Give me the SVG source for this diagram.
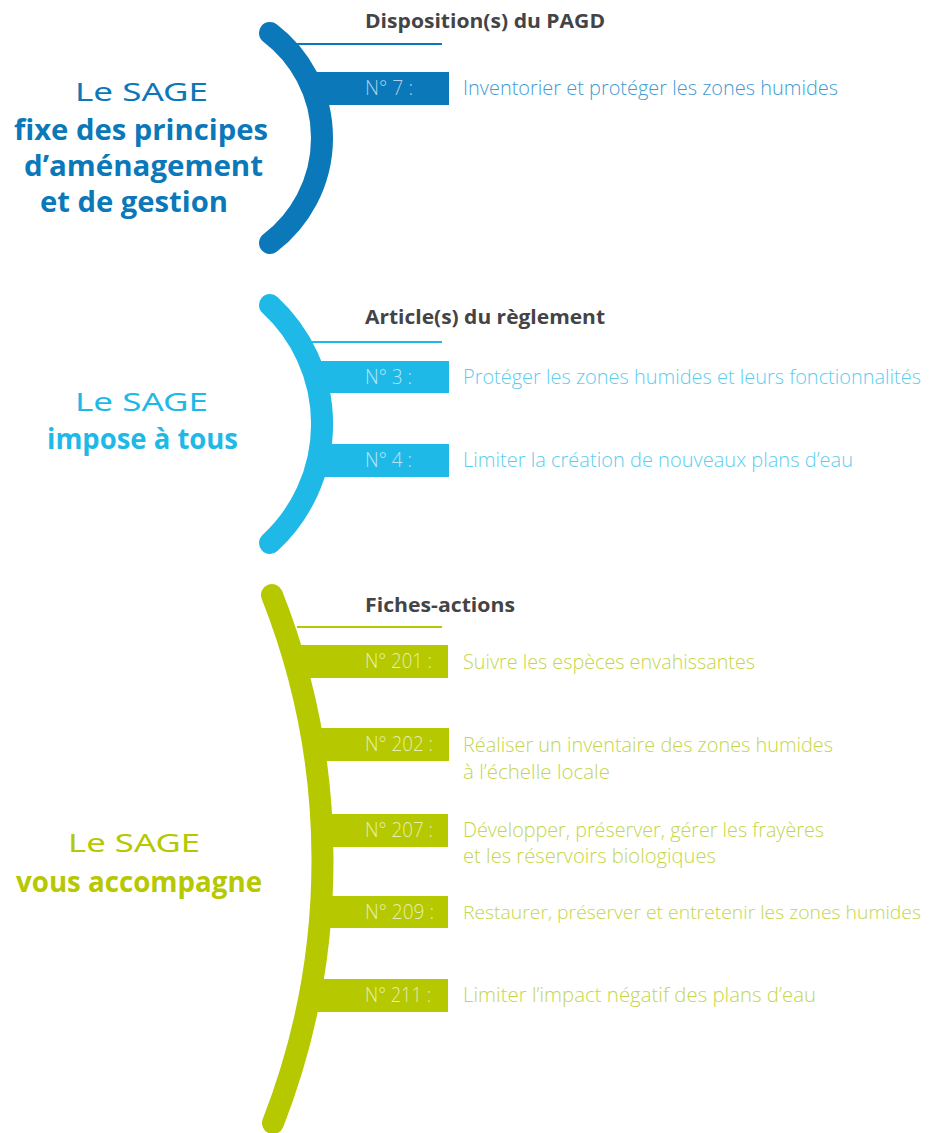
<svg xmlns="http://www.w3.org/2000/svg" width="929" height="1133" viewBox="0 0 929 1133">
<style>
.arc{fill:none;stroke-width:22;stroke-linecap:round}
.thin{stroke-width:2}
.hdr{font-family:"Open Sans","Liberation Sans",sans-serif;font-weight:700;font-size:19px;fill:#444446}
.num{font-family:"Open Sans","Liberation Sans",sans-serif;font-weight:300;font-size:20px}
.desc{font-family:"Open Sans","Liberation Sans",sans-serif;font-weight:300;font-size:20px}
.sage{font-family:"Noto Sans","DejaVu Sans",sans-serif;font-size:26px;font-weight:400}
.big{font-family:"Open Sans","Liberation Sans",sans-serif;font-weight:700;font-size:28px}
.blue{fill:#0a78b9}.cyan{fill:#1fb9e8}.green{fill:#b5c800}
</style>
<rect width="929" height="1133" fill="#ffffff"/>

<g id="section-pagd">
  <text class="sage blue" x="75" y="101" textLength="133" lengthAdjust="spacingAndGlyphs">Le SAGE</text>
  <text class="big blue" x="14" y="140" textLength="254" lengthAdjust="spacingAndGlyphs">fixe des principes</text>
  <text class="big blue" x="24" y="176" textLength="239" lengthAdjust="spacingAndGlyphs">d’aménagement</text>
  <text class="big blue" x="40" y="212" textLength="188" lengthAdjust="spacingAndGlyphs">et de gestion</text>
  <text class="hdr" x="365" y="28" textLength="240" lengthAdjust="spacingAndGlyphs">Disposition(s) du PAGD</text>
  <line class="thin" x1="293" y1="44" x2="442" y2="44" stroke="#0a78b9"/>
  <rect x="312" y="72" width="137" height="33" fill="#0a78b9"/>
  <path class="arc" d="M270 33 A132 132 0 0 1 270 243" stroke="#0a78b9"/>
  <text class="num" x="365" y="95" fill="#a9d0ec" textLength="48" lengthAdjust="spacingAndGlyphs">N° 7 :</text>
  <text class="desc" x="463" y="95" fill="#3f9bd3" textLength="375" lengthAdjust="spacingAndGlyphs">Inventorier et protéger les zones humides</text>
</g>

<g id="section-reglement">
  <text class="sage cyan" x="75" y="411" textLength="133" lengthAdjust="spacingAndGlyphs">Le SAGE</text>
  <text class="big cyan" x="47" y="449" textLength="191" lengthAdjust="spacingAndGlyphs">impose à tous</text>
  <text class="hdr" x="365" y="324" textLength="240" lengthAdjust="spacingAndGlyphs">Article(s) du règlement</text>
  <line class="thin" x1="308" y1="342" x2="442" y2="342" stroke="#1fb9e8"/>
  <rect x="314" y="361" width="135" height="32" fill="#1fb9e8"/>
  <rect x="317" y="444" width="132" height="33" fill="#1fb9e8"/>
  <path class="arc" d="M270 305 A162 162 0 0 1 270 543" stroke="#1fb9e8"/>
  <text class="num" x="365" y="384" fill="#b5e6f8" textLength="47" lengthAdjust="spacingAndGlyphs">N° 3 :</text>
  <text class="desc" x="463" y="384" fill="#5ccdf0" textLength="458" lengthAdjust="spacingAndGlyphs">Protéger les zones humides et leurs fonctionnalités</text>
  <text class="num" x="365" y="467" fill="#b5e6f8" textLength="47" lengthAdjust="spacingAndGlyphs">N° 4 :</text>
  <text class="desc" x="463" y="467" fill="#5ccdf0" textLength="390" lengthAdjust="spacingAndGlyphs">Limiter la création de nouveaux plans d’eau</text>
</g>

<g id="section-fiches">
  <text class="sage green" x="68" y="852" textLength="132" lengthAdjust="spacingAndGlyphs">Le SAGE</text>
  <text class="big green" x="16" y="892" textLength="246" lengthAdjust="spacingAndGlyphs">vous accompagne</text>
  <text class="hdr" x="365" y="612" textLength="150" lengthAdjust="spacingAndGlyphs">Fiches-actions</text>
  <line class="thin" x1="297" y1="627" x2="442" y2="627" stroke="#b5c800"/>
  <rect x="295" y="645" width="153" height="33" fill="#b5c800"/>
  <rect x="312" y="728" width="137" height="33" fill="#b5c800"/>
  <rect x="320" y="814" width="128" height="33" fill="#b5c800"/>
  <rect x="319" y="896" width="129" height="32" fill="#b5c800"/>
  <rect x="308" y="979" width="140" height="33" fill="#b5c800"/>
  <path class="arc" d="M272 595 A722 722 0 0 1 273 1123" stroke="#b5c800"/>
  <text class="num" x="365" y="668" fill="#e6efb0" textLength="67" lengthAdjust="spacingAndGlyphs">N° 201 :</text>
  <text class="desc" x="463" y="669" fill="#c4d64a" textLength="292" lengthAdjust="spacingAndGlyphs">Suivre les espèces envahissantes</text>
  <text class="num" x="365" y="751" fill="#e6efb0" textLength="68" lengthAdjust="spacingAndGlyphs">N° 202 :</text>
  <text class="desc" x="463" y="752" fill="#c4d64a" textLength="370" lengthAdjust="spacingAndGlyphs">Réaliser un inventaire des zones humides</text>
  <text class="desc" x="463" y="779" fill="#c4d64a" textLength="147" lengthAdjust="spacingAndGlyphs">à l’échelle locale</text>
  <text class="num" x="365" y="837" fill="#e6efb0" textLength="68" lengthAdjust="spacingAndGlyphs">N° 207 :</text>
  <text class="desc" x="463" y="837" fill="#c4d64a" textLength="361" lengthAdjust="spacingAndGlyphs">Développer, préserver, gérer les frayères</text>
  <text class="desc" x="463" y="863" fill="#c4d64a" textLength="253" lengthAdjust="spacingAndGlyphs">et les réservoirs biologiques</text>
  <text class="num" x="365" y="919" fill="#e6efb0" textLength="69" lengthAdjust="spacingAndGlyphs">N° 209 :</text>
  <text class="desc" x="463" y="919" fill="#c4d64a" style="font-size:18.5px" textLength="458" lengthAdjust="spacingAndGlyphs">Restaurer, préserver et entretenir les zones humides</text>
  <text class="num" x="365" y="1002" fill="#e6efb0" textLength="66" lengthAdjust="spacingAndGlyphs">N° 211 :</text>
  <text class="desc" x="463" y="1002" fill="#c4d64a" textLength="353" lengthAdjust="spacingAndGlyphs">Limiter l’impact négatif des plans d’eau</text>
</g>

<g id="connectors"></g>
</svg>
